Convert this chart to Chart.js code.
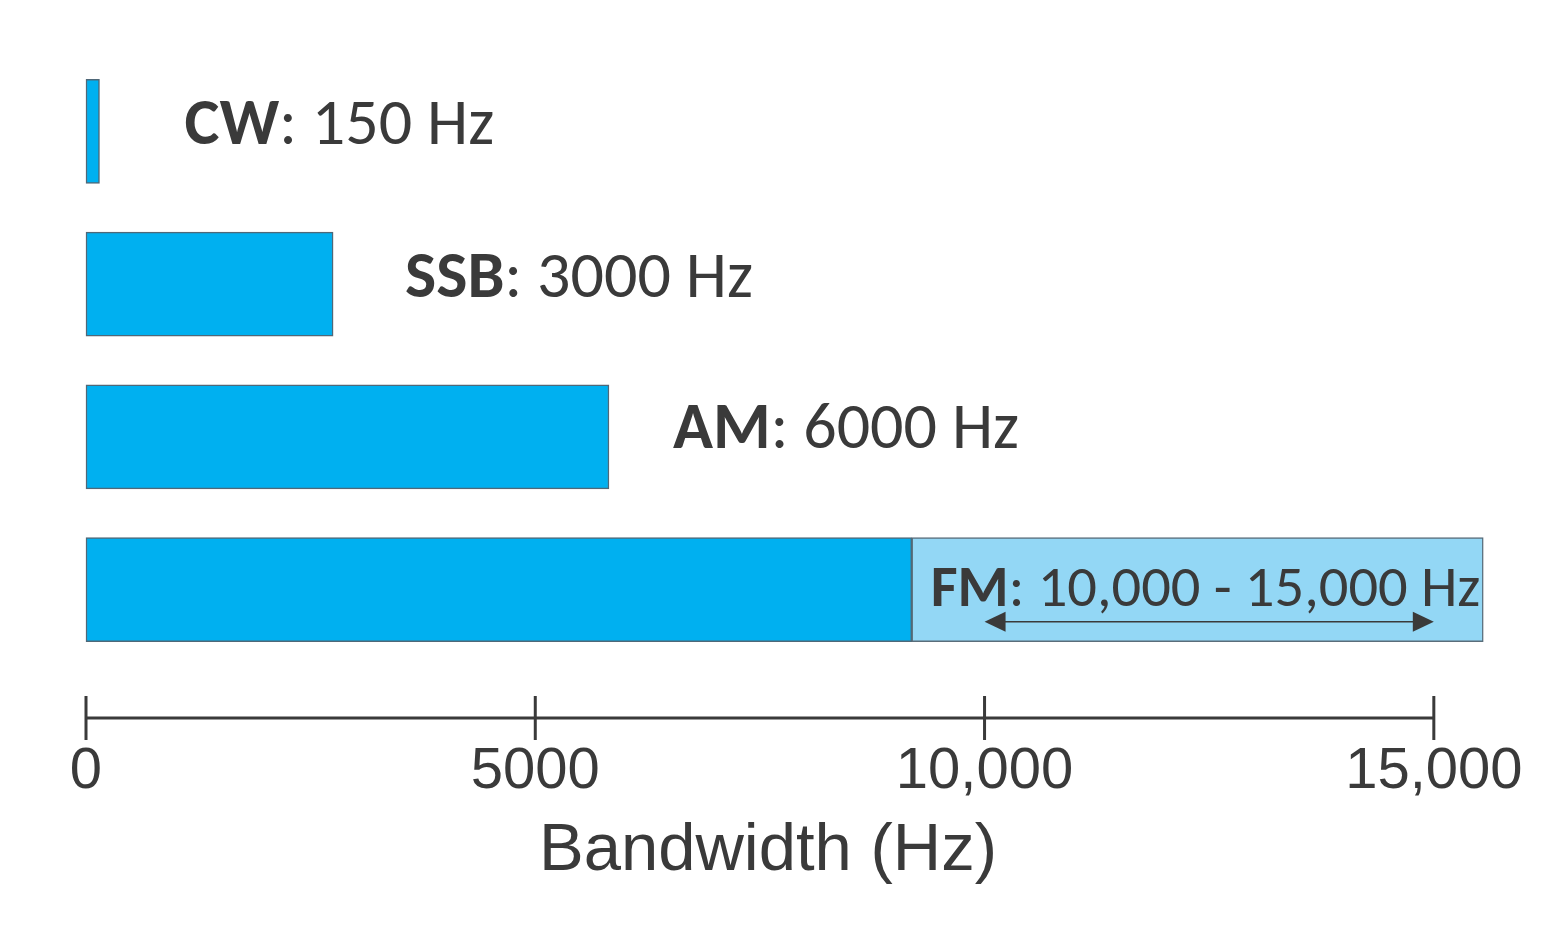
<!DOCTYPE html>
<html>
<head>
<meta charset="utf-8">
<title>Bandwidth by mode</title>
<script src="https://cdn.jsdelivr.net/npm/chart.js@4.4.1/dist/chart.umd.min.js"></script>
<style>
  html, body { margin: 0; padding: 0; background: #fff; }
  #wrap { width: 1566px; height: 945px; position: relative; }
</style>
</head>
<body>
<div id="wrap"><canvas id="bw"></canvas></div>
<script>
// modes, top to bottom
const modes = ["CW", "SSB", "AM", "FM"];
// where each solid bar ends (Hz)
const bandwidths = [150, 2750, 5820, 9190];
// FM's lighter extension, start and end (Hz)
const fmExtent = [9190, 15550];
// double arrow under the FM label (Hz)
const fmArrow = [10000, 15000];
// text next to each bar
const labelNames = ["CW", "SSB", "AM", "FM"];
const labelValues = [": 150 Hz", ": 3000 Hz", ": 6000 Hz", ": 10,000 - 15,000 Hz"];
// x axis
const tickValues = [0, 5000, 10000, 15000];
const tickLabels = ["0", "5000", "10,000", "15,000"];
const axisTitle = "Bandwidth (Hz)";

const ink = "#3a3a3a";
const labelFont = "Carlito, Lato, sans-serif";
const axisFont = "'Liberation Sans', Arial, sans-serif";

// labels beside the bars + the FM arrow
const barText = {
  id: "barText",
  afterDatasetsDraw(chart, args, opts) {
    const ctx = chart.ctx;
    const x = chart.scales.x;
    const meta = chart.getDatasetMeta(0);
    ctx.save();
    ctx.fillStyle = ink;
    ctx.textBaseline = "middle";
    meta.data.forEach((bar, i) => {
      let tx = bar.x + opts.gaps[i];
      const ty = bar.y + opts.lift[i];
      ctx.font = "bold " + opts.sizes[i] + "px " + labelFont;
      ctx.fillText(labelNames[i], tx, ty);
      tx += ctx.measureText(labelNames[i]).width;
      ctx.font = opts.sizes[i] + "px " + labelFont;
      ctx.fillText(labelValues[i], tx, ty);
    });

    const fm = meta.data[3];
    const ay = fm.y + opts.arrowDrop;
    const x0 = x.getPixelForValue(fmArrow[0]);
    const x1 = x.getPixelForValue(fmArrow[1]);
    ctx.strokeStyle = ink;
    ctx.lineWidth = 1.5;
    ctx.beginPath();
    ctx.moveTo(x0 + 10, ay);
    ctx.lineTo(x1 - 10, ay);
    ctx.stroke();
    ctx.beginPath();
    ctx.moveTo(x0, ay); ctx.lineTo(x0 + 21, ay - 10); ctx.lineTo(x0 + 21, ay + 10);
    ctx.closePath(); ctx.fill();
    ctx.beginPath();
    ctx.moveTo(x1, ay); ctx.lineTo(x1 - 21, ay - 10); ctx.lineTo(x1 - 21, ay + 10);
    ctx.closePath(); ctx.fill();
    ctx.restore();
  }
};

// axis line with ticks crossing it, only from 0 to 15,000
const axisLine = {
  id: "axisLine",
  afterDraw(chart, args, opts) {
    const ctx = chart.ctx;
    const x = chart.scales.x;
    const y = chart.chartArea.bottom + opts.drop;
    ctx.save();
    ctx.strokeStyle = ink;
    ctx.lineWidth = 3;
    ctx.beginPath();
    ctx.moveTo(x.getPixelForValue(tickValues[0]), y);
    ctx.lineTo(x.getPixelForValue(tickValues[tickValues.length - 1]), y);
    tickValues.forEach(v => {
      const px = x.getPixelForValue(v);
      ctx.moveTo(px, y - opts.tick);
      ctx.lineTo(px, y + opts.tick);
    });
    ctx.stroke();
    ctx.restore();
  }
};

new Chart(document.getElementById("bw"), {
  type: "bar",
  data: {
    labels: modes,
    datasets: [
      {
        label: "bandwidth",
        data: bandwidths,
        backgroundColor: "#00b0f0",
        borderColor: "#4f6878",
        borderWidth: 1.5,
        borderSkipped: false,
        barThickness: 104,
        grouped: false,
        clip: false,
        order: 1
      },
      {
        label: "FM range",
        data: [null, null, null, fmExtent],
        backgroundColor: "#93d7f5",
        borderColor: "#5a6d7a",
        borderWidth: 1.5,
        borderSkipped: false,
        barThickness: 104,
        grouped: false,
        clip: false,
        order: 2
      }
    ]
  },
  options: {
    indexAxis: "y",
    responsive: true,
    maintainAspectRatio: false,
    animation: false,
    devicePixelRatio: 1,
    layout: { padding: { left: 86, right: 116, top: 55, bottom: 0 } },
    plugins: {
      legend: { display: false },
      tooltip: { enabled: false },
      barText: {
        sizes: [66, 66, 66, 58.5],
        gaps: [85, 72, 64, 19],
        lift: [-4, -4, -5, 2],
        arrowDrop: 32
      },
      axisLine: { drop: 52, tick: 22 }
    },
    scales: {
      y: { display: false },
      x: {
        min: 0,
        max: 15180,
        grid: { display: false, drawTicks: false },
        border: { display: false },
        afterBuildTicks: s => { s.ticks = tickValues.map(v => ({ value: v })); },
        afterFit: s => { s.height = 279; s.paddingLeft = 0; s.paddingRight = 0; },
        ticks: {
          padding: 71,
          color: ink,
          maxRotation: 0,
          autoSkip: false,
          font: { family: axisFont, size: 58 },
          callback: (v) => tickLabels[tickValues.indexOf(v)]
        },
        title: {
          display: true,
          text: axisTitle,
          color: ink,
          font: { family: axisFont, size: 67 },
          padding: { top: 0, bottom: 53 }
        }
      }
    }
  },
  plugins: [barText, axisLine]
});
</script>
</body>
</html>
